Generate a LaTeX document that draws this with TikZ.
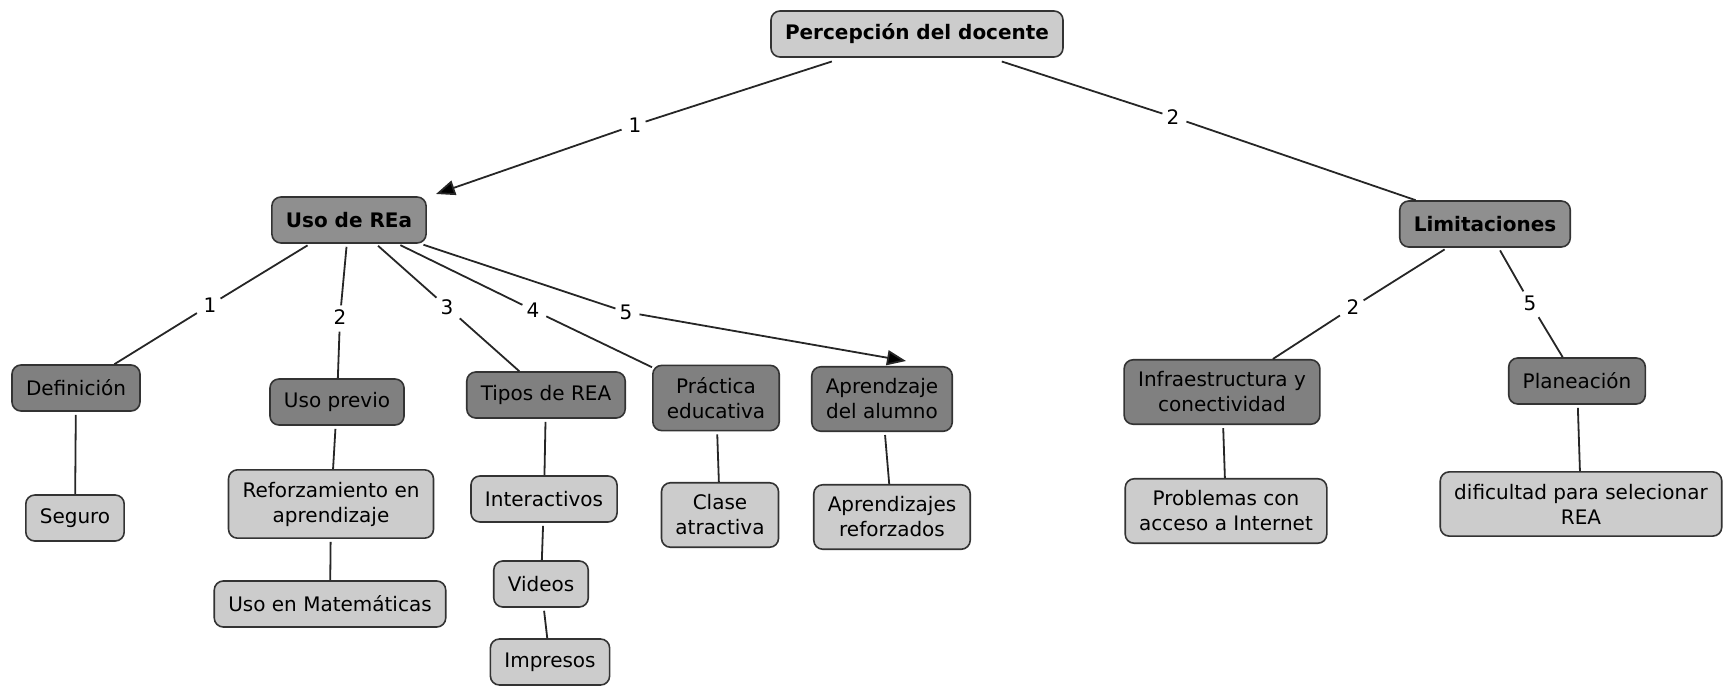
\documentclass[tikz,border=0pt]{standalone}
\usepackage{fontspec}
\setmainfont{DejaVu Sans}
\usetikzlibrary{arrows.meta}
\begin{document}
\begin{tikzpicture}[x=1pt,y=-1pt,
    concept/.style={draw=black!80,line width=1.6pt,rounded corners=9pt,align=center,
      inner xsep=14pt,inner ysep=12pt,minimum height=46pt,
      font=\fontsize{20}{25}\selectfont},
    light/.style={concept,fill=black!20},
    dark/.style={concept,fill=black!50},
    head/.style={concept,fill=black!44,font=\fontsize{20}{25}\selectfont\bfseries},
    link/.style={inner sep=4pt,font=\fontsize{20}{25}\selectfont},
    edge/.style={draw=black!85,line width=1.8pt,shorten <=3pt},
    tip/.style={-{Triangle[length=19pt,width=15pt,fill=black]}}]
  \useasboundingbox (0,0) rectangle (1728,687);
  \draw
    (917,34) node[light,font=\fontsize{20}{25}\selectfont\bfseries] (perc){Percepción del docente}
    (349,220) node[head] (uso){Uso de REa}
    (1485,224) node[head] (limit){Limitaciones}
    (76,388) node[dark] (defin){Definición}
    (337,402) node[dark] (previo){Uso previo}
    (546,395) node[dark] (tipos){Tipos de REA}
    (716,398) node[dark] (practica){Práctica\\educativa}
    (882,399) node[dark] (aprend){Aprendzaje\\del alumno}
    (1222,392) node[dark] (infra){Infraestructura y\\conectividad}
    (1577,381) node[dark] (planea){Planeación}
    (75,518) node[light] (seguro){Seguro}
    (331,504) node[light] (refuerzo){Reforzamiento en\\aprendizaje}
    (330,604) node[light] (mate){Uso en Matemáticas}
    (544,499) node[light] (inter){Interactivos}
    (541,584) node[light] (videos){Videos}
    (550,662) node[light] (impresos){Impresos}
    (720,515) node[light] (clase){Clase\\atractiva}
    (892,517) node[light] (reforzados){Aprendizajes\\reforzados}
    (1226,511) node[light] (problemas){Problemas con\\acceso a Internet}
    (1581,504) node[light] (dificultad){dificultad para selecionar\\REA};
  % linking phrases
  \draw
    (635,125) node[link] (l-uso){1}
    (1173,117) node[link] (l-limit){2}
    (210,305) node[link] (l-defin){1}
    (340,317) node[link] (l-previo){2}
    (447,307) node[link] (l-tipos){3}
    (533,310) node[link] (l-practica){4}
    (626,312) node[link] (l-aprend){5}
    (1353,307) node[link] (l-infra){2}
    (1530,303) node[link] (l-planea){5};
  % arrow ends
  \coordinate (uso-in) at (436,194);
  \coordinate (aprend-in) at (906,361);
  \begin{scope}[edge]
    \draw[shorten <=12pt] (perc) to (l-uso);
    \draw[tip] (l-uso) to (uso-in);
    \draw[shorten <=12pt] (perc) to (l-limit);
    \draw (l-limit) to (limit);
    \draw (uso) to (l-defin);
    \draw (l-defin) to (defin);
    \draw (uso) to (l-previo);
    \draw (l-previo) to (previo);
    \draw (uso) to (l-tipos);
    \draw (l-tipos) to (tipos);
    \draw (uso) to (l-practica);
    \draw (l-practica) to (practica);
    \draw (uso) to (l-aprend);
    \draw[tip] (l-aprend) to (aprend-in);
    \draw (limit) to (l-infra);
    \draw (l-infra) to (infra);
    \draw (limit) to (l-planea);
    \draw (l-planea) to (planea);
    \draw (defin) to (seguro);
    \draw (previo) to (refuerzo);
    \draw (refuerzo) to (mate);
    \draw (tipos) to (inter);
    \draw (inter) to (videos);
    \draw (videos) to (impresos);
    \draw (practica) to (clase);
    \draw (aprend) to (reforzados);
    \draw (infra) to (problemas);
    \draw (planea) to (dificultad);
  \end{scope}
\end{tikzpicture}
\end{document}
